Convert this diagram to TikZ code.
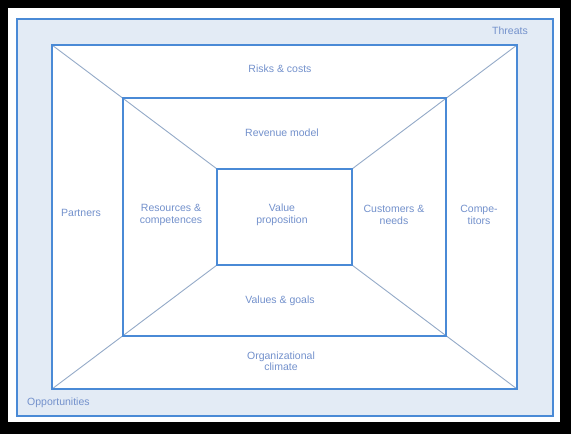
\documentclass[tikz,border=0pt]{standalone}
\usepackage{fontspec}
\setmainfont{Liberation Sans}
\usepackage{xcolor}
\definecolor{FrameBlue}{HTML}{4A8AD6}
\definecolor{FieldBlue}{HTML}{E3EBF5}
\definecolor{RayBlue}{HTML}{94AAC8}
\definecolor{LabelBlue}{HTML}{7391CC}

\begin{document}
\begin{tikzpicture}[
      x=1pt,y=-1pt,
      font=\fontsize{10.5}{11.5}\selectfont,
      box/.style={draw=FrameBlue,line width=1.4pt},
      ray/.style={draw=RayBlue,line width=0.9pt},
      lbl/.style={text=LabelBlue,align=center,inner sep=0pt}
    ]
      % black frame round the whole picture
      \fill[black] (0,0) rectangle (571,434);
      \fill[white] (8,8) rectangle (560,422);
      \useasboundingbox (0,0) rectangle (571,434);

      % environment field
      \draw[box,fill=FieldBlue] (17,19) rectangle (553,416);

      % corners of the three frames
      \coordinate (oTL) at (52,45);   \coordinate (oTR) at (517,45);
      \coordinate (oBL) at (52,389);  \coordinate (oBR) at (517,389);
      \coordinate (mTL) at (123,98);  \coordinate (mTR) at (446,98);
      \coordinate (mBL) at (123,336); \coordinate (mBR) at (446,336);
      \coordinate (iTL) at (217,169); \coordinate (iTR) at (352,169);
      \coordinate (iBL) at (217,265); \coordinate (iBR) at (352,265);

      \fill[white] (oTL) rectangle (oBR);
      \draw[ray] (oTL) -- (iTL);
      \draw[ray] (oTR) -- (iTR);
      \draw[ray] (oBL) -- (iBL);
      \draw[ray] (oBR) -- (iBR);
      \draw[box] (oTL) rectangle (oBR);
      \draw[box] (mTL) rectangle (mBR);
      \draw[box] (iTL) rectangle (iBR);

      % labels
      \node[lbl,anchor=east] (threats) at (528,31) {Threats};
      \node[lbl,anchor=west] (opport) at (27,403) {Opportunities};
      \node[lbl] (risks) at (280,69) {Risks \& costs};
      \node[lbl] (revenue) at (282,133) {Revenue model};
      \node[lbl] (partners) at (81,213) {Partners};
      \node[lbl] (resources) at (171,215) {Resources \&\\competences};
      \node[lbl] (value) at (282,215) {Value\\proposition};
      \node[lbl] (customers) at (394,215) {Customers \&\\needs};
      \node[lbl] (competitors) at (479,215) {Compe-\\titors};
      \node[lbl] (values) at (280,301) {Values \& goals};
      \node[lbl] (climate) at (281,361) {Organizational\\climate};
    \end{tikzpicture}
\end{document}
